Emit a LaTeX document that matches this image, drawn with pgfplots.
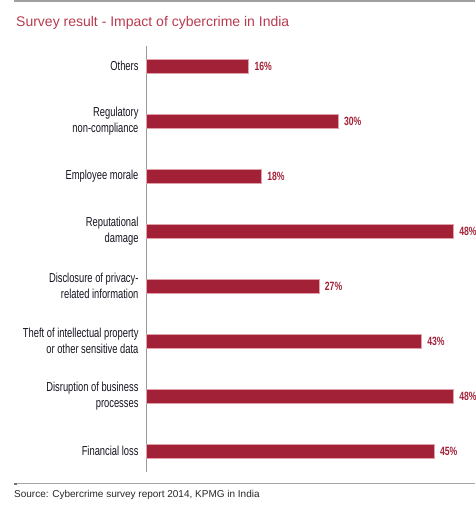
\documentclass[border=0pt]{standalone}
\usepackage{fontspec}
\setmainfont{Liberation Sans}
\newfontfamily\cond[FakeStretch=0.72]{Liberation Sans}
\newfontfamily\condb[FakeStretch=0.72]{Liberation Sans Bold}
\usepackage{pgfplots}
\pgfplotsset{compat=1.18}
\definecolor{barred}{HTML}{A32137}
\definecolor{baredge}{HTML}{E0A0AA}
\definecolor{titlered}{HTML}{B83A50}
\definecolor{labtxt}{HTML}{141420}
\begin{document}
\begin{tikzpicture}
\path[use as bounding box] (0,0) rectangle (475pt,508pt);
\draw[gray!75, line width=2pt] (14pt,506.5pt) -- (475pt,506.5pt);
\node[anchor=base west, inner sep=0pt, font=\fontsize{14}{16}\selectfont, text=titlered] at (16pt,481pt) {Survey result - Impact of cybercrime in India};
\draw[gray!70, line width=1pt] (14pt,24pt) -- (475pt,24pt);
\fill[gray!90!black] (14pt,23pt) rectangle (16.5pt,25pt);
\node[anchor=base west, inner sep=0pt, font=\fontsize{10}{12}\selectfont, text=black!85] at (14pt,10pt) {Source: Cybercrime survey report 2014, KPMG in India};
\begin{axis}[
  at={(146pt,36pt)}, anchor=south west,
  scale only axis,
  width=320pt, height=425.7pt,
  xmin=0, xmax=50,
  ymin=-0.38, ymax=7.36,
  axis x line=none,
  axis y line=left,
  y axis line style={gray!80, line width=1pt, -},
  ytick={0,1,2,3,4,5,6,7},
  yticklabels={
    {Financial loss},
    {Disruption of business\\processes},
    {Theft of intellectual property\\or other sensitive data},
    {Disclosure of privacy-\\related information},
    {Reputational\\damage},
    {Employee morale},
    {Regulatory\\non-compliance},
    {Others}},
  yticklabel style={align=right, font=\cond\fontsize{13}{16}\selectfont, text=labtxt, xshift=-4pt},
  major tick length=0pt,
  xbar,
  bar width=14pt,
  point meta=explicit symbolic,
  nodes near coords,
  nodes near coords style={font=\condb\fontsize{12}{14}\selectfont, text=barred, anchor=west, xshift=2.5pt},
  clip=false,
]
\addplot[fill=barred, draw=baredge, line width=0.6pt] table[meta=lab] {
x y lab
45 0 45\%
48 1 48\%
43 2 43\%
27 3 27\%
48 4 48\%
18 5 18\%
30 6 30\%
16 7 16\%
};
\end{axis}
\end{tikzpicture}
\end{document}
